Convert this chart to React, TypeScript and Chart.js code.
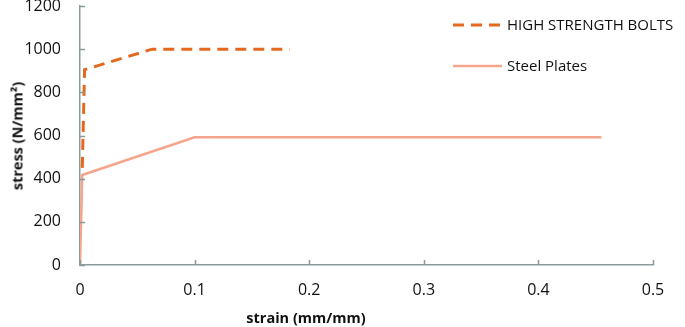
import React, { useEffect, useRef } from "react";
import { Chart, registerables } from "chart.js";

Chart.register(...registerables);

const boltStrain = [0.002, 0.004, 0.063, 0.183];
const boltStress = [450, 905, 1000, 1000];
const plateStrain = [0, 0.002, 0.1, 0.455];
const plateStress = [0, 417, 592, 592];
const seriesNames = ["HIGH STRENGTH BOLTS", "Steel Plates"];
const yTicks = [0, 200, 400, 600, 800, 1000, 1200];
const xTicks = [0, 0.1, 0.2, 0.3, 0.4, 0.5];

const BOLT_COLOR = "#E4691F";
const PLATE_COLOR = "#F6A48C";
const AXIS_COLOR = "#8A9999";
const FONT = "'Open Sans', Lato, sans-serif";

const insideTicks = {
  id: "insideTicks",
  afterDatasetsDraw(chart: any) {
    const ctx = chart.ctx;
    const xs = chart.scales.x;
    const ys = chart.scales.y;
    ctx.save();
    ctx.strokeStyle = AXIS_COLOR;
    ctx.lineWidth = 1.5;
    xs.ticks.forEach((_t: any, i: number) => {
      const px = Math.round(xs.getPixelForTick(i)) + 0.5;
      ctx.beginPath();
      ctx.moveTo(px, xs.top);
      ctx.lineTo(px, xs.top - 5);
      ctx.stroke();
    });
    ys.ticks.forEach((_t: any, i: number) => {
      const py = Math.round(ys.getPixelForTick(i)) + 0.5;
      ctx.beginPath();
      ctx.moveTo(ys.right, py);
      ctx.lineTo(ys.right + 5, py);
      ctx.stroke();
    });
    ctx.restore();
  },
};

export default function App() {
  const ref = useRef<HTMLCanvasElement | null>(null);

  useEffect(() => {
    document.body.style.margin = "0";
    const canvas = ref.current!;
    const chart = new Chart(canvas, {
      type: "scatter",
      data: {
        datasets: [
          {
            label: seriesNames[0],
            data: boltStrain.map((x, i) => ({ x, y: boltStress[i] })),
            showLine: true,
            borderColor: BOLT_COLOR,
            borderWidth: 3,
            borderDash: [11, 7],
            pointRadius: 0,
            fill: false,
          },
          {
            label: seriesNames[1],
            data: plateStrain.map((x, i) => ({ x, y: plateStress[i] })),
            showLine: true,
            borderColor: PLATE_COLOR,
            borderWidth: 2.5,
            pointRadius: 0,
            fill: false,
          },
        ],
      },
      options: {
        animation: false,
        responsive: false,
        maintainAspectRatio: false,
        layout: { padding: { left: 0, right: 32, top: 6, bottom: 0 } },
        plugins: {
          legend: { display: false },
          tooltip: { enabled: false },
        },
        scales: {
          x: {
            type: "linear",
            min: 0,
            max: 0.5,
            afterBuildTicks: (s: any) => {
              s.ticks = xTicks.map((v) => ({ value: v }));
            },
            afterFit: (s: any) => {
              s.height = 62;
              s.paddingLeft = 0;
              s.paddingRight = 0;
            },
            grid: { display: true, drawOnChartArea: false, drawTicks: false, color: "rgba(0,0,0,0)" },
            border: { display: true, color: AXIS_COLOR, width: 1.5 },
            ticks: {
              padding: 16,
              color: "#111",
              font: { family: FONT, size: 16 },
              callback: (v: any) => String(v),
            },
          },
          y: {
            type: "linear",
            min: 0,
            max: 1200,
            afterBuildTicks: (s: any) => {
              s.ticks = yTicks.map((v) => ({ value: v }));
            },
            afterFit: (s: any) => {
              s.width = 80;
              s.paddingTop = 0;
              s.paddingBottom = 0;
            },
            grid: { display: true, drawOnChartArea: false, drawTicks: false, color: "rgba(0,0,0,0)" },
            border: { display: true, color: AXIS_COLOR, width: 1.5 },
            ticks: {
              padding: 19,
              color: "#111",
              font: { family: FONT, size: 16 },
              callback: (v: any) => String(v),
            },
          },
        },
      } as any,
      plugins: [insideTicks],
    });
    return () => chart.destroy();
  }, []);

  const legendText: React.CSSProperties = {
    position: "absolute",
    left: 507,
    fontFamily: FONT,
    fontSize: 15,
    color: "#111",
    whiteSpace: "nowrap",
    lineHeight: "18px",
  };

  const titleStyle: React.CSSProperties = {
    position: "absolute",
    fontFamily: FONT,
    fontWeight: "bold",
    fontSize: 14.5,
    color: "#111",
    whiteSpace: "nowrap",
  };

  return (
    <div style={{ position: "relative", width: 685, height: 327, background: "#fff" }}>
      <canvas ref={ref} width={685} height={327} style={{ display: "block" }} />
      <svg width={60} height={80} style={{ position: "absolute", left: 450, top: 10 }}>
        <line x1={3} y1={15} x2={53} y2={15} stroke={BOLT_COLOR} strokeWidth={3} strokeDasharray="11 7" />
        <line x1={3} y1={56} x2={52} y2={56} stroke={PLATE_COLOR} strokeWidth={2.5} />
      </svg>
      <div style={{ ...legendText, top: 15 }}>{seriesNames[0]}</div>
      <div style={{ ...legendText, top: 56 }}>{seriesNames[1]}</div>
      <div
        style={{
          ...titleStyle,
          left: 17,
          top: 136,
          transform: "translate(-50%, -50%) rotate(-90deg)",
        }}
      >
        stress (N/mm²)
      </div>
      <div style={{ ...titleStyle, left: 306, top: 317, transform: "translate(-50%, -50%)" }}>
        strain (mm/mm)
      </div>
    </div>
  );
}
